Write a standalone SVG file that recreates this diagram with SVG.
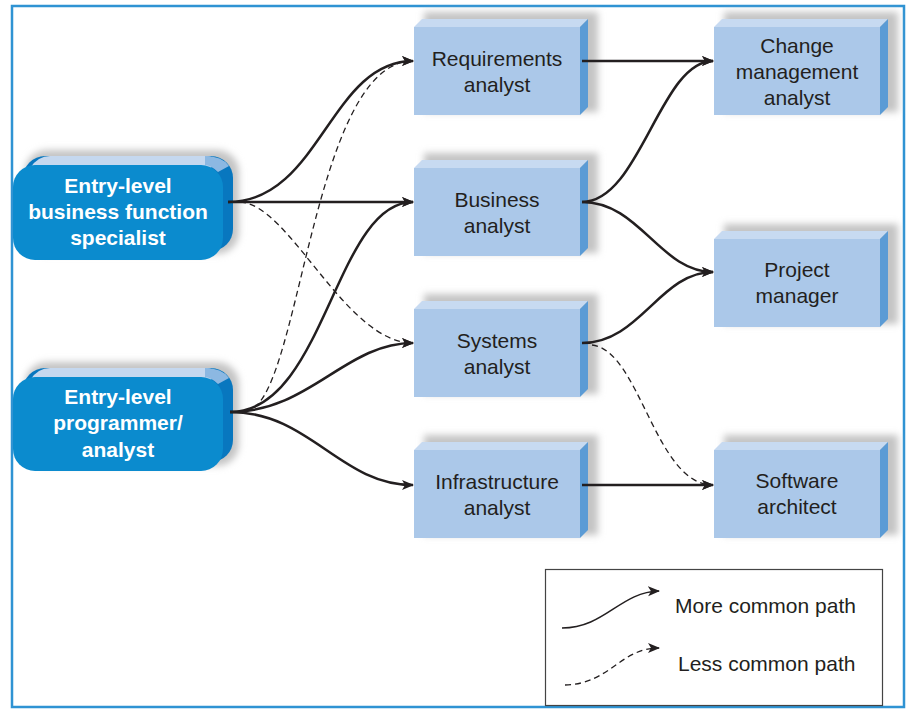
<svg xmlns="http://www.w3.org/2000/svg" width="910" height="709" viewBox="0 0 910 709">
<defs>
<filter id="sh" x="-20%" y="-30%" width="140%" height="160%"><feGaussianBlur stdDeviation="3.5"/></filter>
<marker id="ah" markerUnits="userSpaceOnUse" markerWidth="13" markerHeight="11" refX="11" refY="5" orient="auto" viewBox="0 0 13 10">
<path d="M0,0 L12,5 L0,10 L3,5 Z" fill="#231f20"/>
</marker>
<style>
.txt{font-family:"Liberation Sans",Arial,sans-serif;font-size:21px;fill:#231f20;text-anchor:middle}
.wt{font-family:"Liberation Sans",Arial,sans-serif;font-size:21px;font-weight:bold;fill:#ffffff;text-anchor:middle}
.lg{font-family:"Liberation Sans",Arial,sans-serif;font-size:21px;fill:#231f20}
.front{fill:#abc8e9}
.top{fill:#c7daf1}
.side{fill:#5b9bd5}
.shadow{fill:#c4c4c4;filter:url(#sh)}
.nfront{fill:#0b8bce}
.nback{fill:#0877bf}
.ntop{fill:#c5d8ef}
.solid{fill:none;stroke:#231f20;stroke-width:2.5}
.dash{fill:none;stroke:#231f20;stroke-width:1.3;stroke-dasharray:6 4}
</style>
</defs>
<rect x="12" y="6" width="892" height="701" fill="#ffffff" stroke="#2f93d3" stroke-width="2.5"/>

<g id="node-bfs">
<rect class="shadow" x="25" y="150" width="214" height="104" rx="22"/>
<rect class="nback" x="23" y="156" width="210" height="95" rx="22"/>
<path class="ntop" d="M30,168 Q38,156 50,156 L205,156 Q215,156 220,163 L210,168 Z"/>
<path fill="#8cb8e2" d="M205,156 Q222,156 229,166 L218,172 Q212,166 205,165 Z"/>
<rect class="nfront" x="13" y="165" width="210" height="95" rx="22"/>
<text class="wt" x="118" y="193">Entry-level</text>
<text class="wt" x="118" y="219">business function</text>
<text class="wt" x="118" y="245">specialist</text>
</g>

<g id="node-epa">
<rect class="shadow" x="25" y="362" width="214" height="104" rx="22"/>
<rect class="nback" x="23" y="368" width="210" height="94" rx="22"/>
<path class="ntop" d="M30,380 Q38,368 50,368 L205,368 Q215,368 220,375 L210,380 Z"/>
<path fill="#8cb8e2" d="M205,368 Q222,368 229,378 L218,384 Q212,378 205,377 Z"/>
<rect class="nfront" x="13" y="377" width="210" height="94" rx="22"/>
<text class="wt" x="118" y="404">Entry-level</text>
<text class="wt" x="118" y="430">programmer/</text>
<text class="wt" x="118" y="457">analyst</text>
</g>

<g id="node-req">
<rect class="shadow" x="424" y="12" width="174" height="100"/>
<rect class="front" x="414" y="27" width="166" height="88"/>
<polygon class="top" points="414,27 422,19 588,19 580,27"/>
<polygon class="side" points="580,27 588,19 588,107 580,115"/>
<text class="txt" x="497" y="66">Requirements</text>
<text class="txt" x="497" y="92">analyst</text>
</g>

<g id="node-bus">
<rect class="shadow" x="424" y="153" width="174" height="100"/>
<rect class="front" x="414" y="168" width="166" height="88"/>
<polygon class="top" points="414,168 422,160 588,160 580,168"/>
<polygon class="side" points="580,168 588,160 588,248 580,256"/>
<text class="txt" x="497" y="207">Business</text>
<text class="txt" x="497" y="233">analyst</text>
</g>

<g id="node-sys">
<rect class="shadow" x="424" y="294" width="174" height="100"/>
<rect class="front" x="414" y="309" width="166" height="88"/>
<polygon class="top" points="414,309 422,301 588,301 580,309"/>
<polygon class="side" points="580,309 588,301 588,389 580,397"/>
<text class="txt" x="497" y="348">Systems</text>
<text class="txt" x="497" y="374">analyst</text>
</g>

<g id="node-inf">
<rect class="shadow" x="424" y="435" width="174" height="100"/>
<rect class="front" x="414" y="450" width="166" height="88"/>
<polygon class="top" points="414,450 422,442 588,442 580,450"/>
<polygon class="side" points="580,450 588,442 588,530 580,538"/>
<text class="txt" x="497" y="489">Infrastructure</text>
<text class="txt" x="497" y="515">analyst</text>
</g>

<g id="node-cma">
<rect class="shadow" x="724" y="12" width="174" height="100"/>
<rect class="front" x="714" y="27" width="166" height="88"/>
<polygon class="top" points="714,27 722,19 888,19 880,27"/>
<polygon class="side" points="880,27 888,19 888,107 880,115"/>
<text class="txt" x="797" y="53">Change</text>
<text class="txt" x="797" y="79">management</text>
<text class="txt" x="797" y="105">analyst</text>
</g>

<g id="node-pm">
<rect class="shadow" x="724" y="224" width="174" height="100"/>
<rect class="front" x="714" y="239" width="166" height="88"/>
<polygon class="top" points="714,239 722,231 888,231 880,239"/>
<polygon class="side" points="880,239 888,231 888,319 880,327"/>
<text class="txt" x="797" y="277">Project</text>
<text class="txt" x="797" y="303">manager</text>
</g>

<g id="node-sa">
<rect class="shadow" x="724" y="435" width="174" height="100"/>
<rect class="front" x="714" y="450" width="166" height="88"/>
<polygon class="top" points="714,450 722,442 888,442 880,450"/>
<polygon class="side" points="880,450 888,442 888,530 880,538"/>
<text class="txt" x="797" y="488">Software</text>
<text class="txt" x="797" y="514">architect</text>
</g>

<g id="connectors">
<path class="solid" marker-end="url(#ah)" d="M228,202 C320,202 330,61 413,61"/>
<path class="solid" marker-end="url(#ah)" d="M228,202 L413,202"/>
<path class="dash" marker-end="url(#ah)" d="M240,202 C290,204 345,343 413,343"/>
<path class="dash" marker-end="url(#ah)" d="M245,411 C300,412 310,61 413,61"/>
<path class="solid" marker-end="url(#ah)" d="M230,412 C325,412 335,202 413,202"/>
<path class="solid" marker-end="url(#ah)" d="M230,412 C310,412 345,343 413,343"/>
<path class="solid" marker-end="url(#ah)" d="M230,412 C310,412 340,485 413,485"/>
<path class="solid" marker-end="url(#ah)" d="M582,61 L713,61"/>
<path class="solid" marker-end="url(#ah)" d="M582,202 C640,202 660,61 713,61"/>
<path class="solid" marker-end="url(#ah)" d="M582,202 C640,202 660,272 713,272"/>
<path class="solid" marker-end="url(#ah)" d="M582,343 C640,343 660,272 713,272"/>
<path class="dash" marker-end="url(#ah)" d="M592,345 C640,350 655,485 713,485"/>
<path class="solid" marker-end="url(#ah)" d="M582,485 L713,485"/>
</g>

<g id="legend">
<rect x="545.5" y="569.5" width="337" height="136" fill="#ffffff" stroke="#444444" stroke-width="1.2"/>
<path d="M562,628 C605,628 620,592 659,591" fill="none" stroke="#231f20" stroke-width="1.5" marker-end="url(#ah)"/>
<path d="M565,685 C610,684 620,648 659,648" fill="none" stroke="#231f20" stroke-width="1.3" stroke-dasharray="6 4" marker-end="url(#ah)"/>
<text class="lg" x="675" y="613">More common path</text>
<text class="lg" x="678" y="671">Less common path</text>
</g>
</svg>
